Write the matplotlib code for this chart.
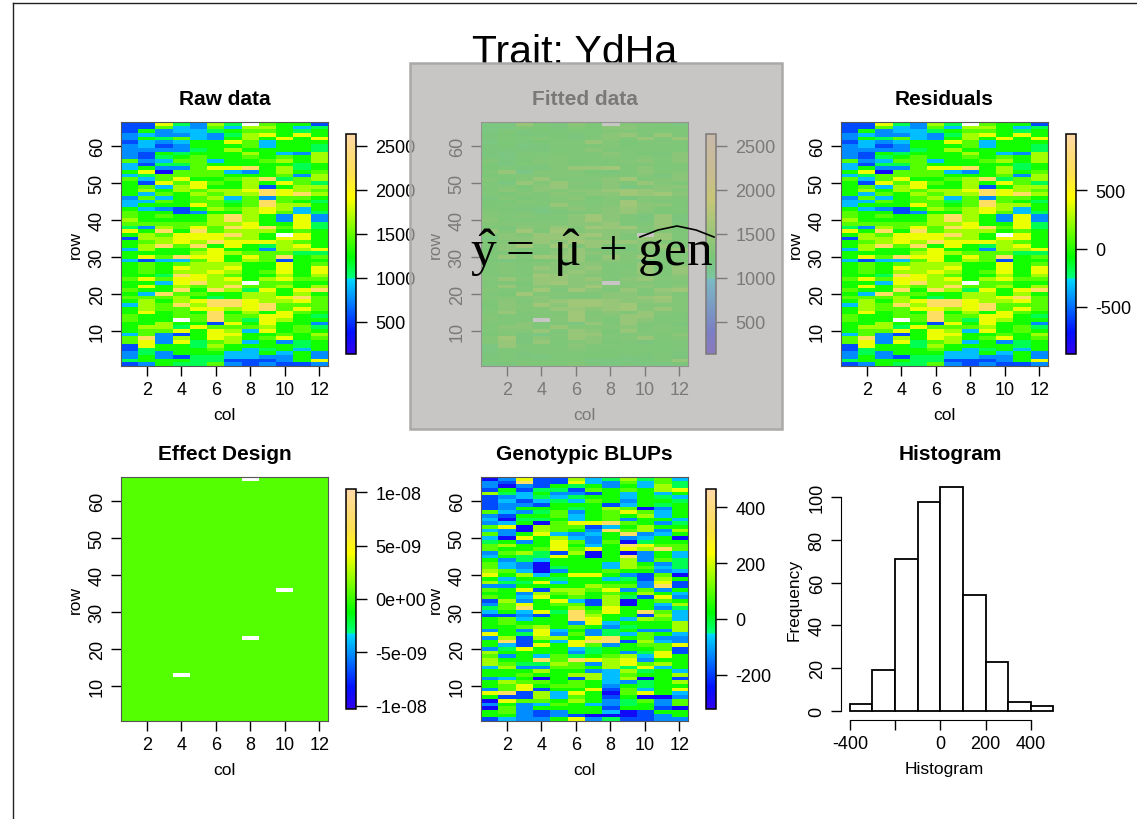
import numpy as np
import matplotlib
matplotlib.use('Agg')
import matplotlib.pyplot as plt
from matplotlib.colors import LinearSegmentedColormap
from matplotlib.lines import Line2D
from matplotlib.patches import Rectangle

plt.rcParams['font.family'] = ['Liberation Sans', 'DejaVu Sans']
plt.rcParams['axes.unicode_minus'] = False
plt.rcParams['mathtext.fontset'] = 'custom'
plt.rcParams['mathtext.rm'] = 'Liberation Serif'

W, H = 1137, 820

# cells, top row first, one colour class per cell, x = empty
RAW_ROWS = [
    '118427 4x6551'.replace(' ', ''), '116326377534', '152334566545', '232232478585',
    '254632575858', '132355863555', '231255563554', '222245755554',
    '215455575327', '214565565657', '623663556757', '314465555545',
    '352268895745', '580666325756', '346666555627', '636855679467',
    '518686575864', '563785571577', '575767789876', '536576779897',
    '263567362665', '336566469654', '355586569775', '532157678735',
    '655125578634', '656557975282', '755557975282', '666667785584',
    '427686989684', '859596777565', '576888975x85', '177888775885',
    '567879888765', '579695854785', '375568552778', '555578766644',
    '586988586956', '313368576155', '565677755856', '565877855858',
    '565778756858', '554987655757', '686887857866', '5538977x6655',
    '585767966757', '655959748589', '539665577575', '666754577896',
    '575789987786', '376979989666', '576688789686', '585659575865',
    '655669668854', '655x69648755', '557551858552', '577486667564',
    '566858738565', '362158855657', '692758756856', '682846735245',
    '185547555545', '145556534535', '242555335352', '252144332252',
    '455544111258', '125446212112',
]

BLUP_ROWS = [
    '028117347463', '219118326364', '202154525374', '151441656578',
    '743522153535', '123434553543', '131343652554', '122155513545',
    '125554576025', '632462568635', '215563565735', '304453562553',
    '235068896524', '680766135755', '320765296727', '625832359235',
    '308573252350', '452586260455', '675585359866', '655686858796',
    '267417050253', '354485059253', '524355557264', '632055537524',
    '632045537634', '763025565523', '857358852160', '535545534175',
    '744835555281', '225555766291', '658177682625', '552767565753',
    '653856574182',
    '172583170565', '268566170537', '469557585524', '353849685963',
    '112159755173', '563559853763', '565552835557', '556756524557',
    '252835245227', '854826243653', '271775895622', '591538991732',
    '531858625668', '248553455561', '755552452481', '625364567385',
    '755969878255', '764476278675', '372266574835', '555755237453',
    '556557736557', '235051737051', '576656532457', '568566525455',
    '268155816358', '891738506853', '511736515002', '086657524626',
    '252365324526', '062555515510', '562125530155', '552121000125',
    '132258241122',
]

# value of each colour class, per panel
RAW_LEVELS = [311, 561, 761, 911, 1086, 1286, 1461, 1661, 1861, 2286]
FIT_LEVELS = [1150, 1180, 1210, 1240, 1260, 1280, 1310, 1380, 1480, 1560]
RES_LEVELS = [-770, -582, -432, -319, -187, -37, 94, 245, 396, 716]
BLUP_LEVELS = [-267, -188, -125, -78, -23, 40, 95, 158, 221, 355]
EFFECT_VALUE = 6e-10

HIST_EDGES = [-400, -300, -200, -100, 0, 100, 200, 300, 400, 500]
HIST_COUNTS = [3, 19, 71, 98, 105, 54, 23, 4, 2]

RAW_TICKS = [500, 1000, 1500, 2000, 2500]
RES_TICKS = [-500, 0, 500]
BLUP_TICKS = [-200, 0, 200, 400]
EFFECT_TICKS = [-1e-8, -5e-9, 0, 5e-9, 1e-8]
EFFECT_LABELS = ['-1e-08', '-5e-09', '0e+00', '5e-09', '1e-08']

cmap = LinearSegmentedColormap.from_list('spats', [
    (0.0, '#3300EE'), (0.1, '#0010FF'), (0.34, '#00D8FF'), (0.345, '#00FF80'),
    (0.44, '#00FF00'), (0.71, '#FFFF00'), (0.82, '#FFE050'), (1.0, '#FFD8A8')], N=512)
cmap.set_bad('white')


def px_axes(x0, y0, x1, y1, zorder=2):
    return fig.add_axes([x0 / W, 1 - y1 / H, (x1 - x0) / W, (y1 - y0) / H], zorder=zorder)


def grid(rows, levels):
    out = np.full((len(rows), 12), np.nan)
    for i, r in enumerate(rows):
        for j, c in enumerate(r):
            if c != 'x':
                out[i, j] = levels[int(c)]
    return out[::-1]


def heat(x0, y0, title, z, vmin, vmax, ticks, labels=None):
    ax = px_axes(x0, y0, x0 + 207, y0 + 244)
    im = ax.imshow(z, origin='lower', extent=[0.5, 12.5, 0.5, 66.5], aspect='auto',
                   cmap=cmap, vmin=vmin, vmax=vmax, interpolation='nearest')
    for s in ax.spines.values():
        s.set_linewidth(0.8)
        s.set_color('#555555')
    ax.set_xticks(range(2, 13, 2))
    ax.set_yticks(range(10, 61, 10))
    ax.tick_params(length=7.5, width=1, labelsize=13, pad=3.5)
    for t in ax.get_yticklabels():
        t.set_rotation(90)
        t.set_va('center')
    ax.set_xlabel('col', fontsize=12.5, labelpad=6.5)
    ax.set_ylabel('row', fontsize=12.5, labelpad=4)
    ax.set_title(title, fontsize=15, fontweight='bold', pad=13)

    cy0 = y0 + 12
    cax = px_axes(x0 + 225, cy0, x0 + 235, cy0 + 220)
    cb = fig.colorbar(im, cax=cax)
    cb.set_ticks(ticks)
    if labels:
        cb.set_ticklabels(labels)
    cb.outline.set_linewidth(1.1)
    cax.tick_params(length=8, width=1, labelsize=13, pad=6)
    return ax


fig = plt.figure(figsize=(W / 100, H / 100), dpi=100, facecolor='white')

fig.add_artist(Line2D([13 / W, 13 / W], [0, 1 - 4 / H], color='#222222', lw=1))
fig.add_artist(Line2D([13 / W, 1], [1 - 4 / H, 1 - 4 / H], color='#222222', lw=1))

fig.text(575 / W, 1 - 53 / H, 'Trait: YdHa', fontsize=29.5, ha='center', va='center', zorder=1)

raw = grid(RAW_ROWS, RAW_LEVELS)
fit = grid(RAW_ROWS, FIT_LEVELS)
res = grid(RAW_ROWS, RES_LEVELS)
blup = grid(BLUP_ROWS, BLUP_LEVELS)
effect = np.where(np.isnan(raw), np.nan, EFFECT_VALUE)

heat(121, 123, 'Raw data', raw, 136, 2636, RAW_TICKS)
heat(481, 123, 'Fitted data', fit, 136, 2636, RAW_TICKS)
heat(841, 123, 'Residuals', res, -902, 979, RES_TICKS)
heat(121, 478, 'Effect Design', effect, -1.03e-8, 1.03e-8, EFFECT_TICKS, EFFECT_LABELS)
heat(481, 478, 'Genotypic BLUPs', blup, -322, 465, BLUP_TICKS)

# histogram, R style detached axes
ax = px_axes(841, 478, 1048, 721)
ax.bar(HIST_EDGES[:-1], HIST_COUNTS, width=100, align='edge', facecolor='white',
       edgecolor='black', linewidth=1.3, clip_on=False)
ax.set_xlim(-439, 476)
ax.set_ylim(-4.4, 109.5)
for s in ['top', 'right']:
    ax.spines[s].set_visible(False)
ax.spines['bottom'].set_bounds(-400, 400)
ax.spines['left'].set_bounds(0, 100)
ax.set_xticks([-400, -200, 0, 200, 400], ['-400', '', '0', '200', '400'])
ax.set_yticks([0, 20, 40, 60, 80, 100])
ax.tick_params(length=7.5, width=1, labelsize=13, pad=3.5)
for t in ax.get_yticklabels():
    t.set_rotation(90)
    t.set_va('center')
ax.set_xlabel('Histogram', fontsize=12.5, labelpad=6.5)
ax.set_ylabel('Frequency', fontsize=12.5, labelpad=5)
ax.set_title('Histogram', fontsize=15, fontweight='bold', pad=13, x=0.53)

# grey box over the fitted panel
fig.add_artist(Rectangle((410 / W, 1 - 430 / H), 372 / W, 366 / H, transform=fig.transFigure,
                         facecolor=(0.694, 0.682, 0.675, 0.7), edgecolor='#ABA9A7',
                         linewidth=1.8, zorder=10))
fig.text(470 / W, 1 - 266 / H, r'$\hat{\mathrm{y}}=\,\hat{\mathrm{\mu}}\,+\mathrm{gen}$',
         fontsize=37, ha='left', va='baseline', zorder=11)
# wide hat over "gen"
hat_x = np.array([640, 658, 677, 696, 714])
hat_y = np.array([238, 231, 227, 231, 238])
fig.add_artist(Line2D(hat_x / W, 1 - hat_y / H, color='black', lw=1.2, zorder=11))

fig.savefig('out.png', dpi=100)
